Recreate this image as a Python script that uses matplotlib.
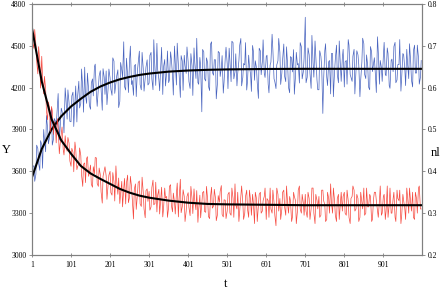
import matplotlib
matplotlib.use("Agg")
import matplotlib.pyplot as plt
import numpy as np

# readings at t = 1, 6, 11, ..., 996 (A) and t = 3, 8, 13, ..., 998 (B)
T_A = np.arange(1, 1000, 5)
T_B = np.arange(3, 1000, 5)

Y_A = [
    3390, 3640, 3578, 3763, 3607, 3790, 3900, 3740, 3910, 3845,
    4050, 3830, 3960, 4064, 3824, 4053, 3981, 4198, 3974, 4090,
    3955, 4168, 4102, 3954, 4246, 4087, 4197, 4347, 4087, 4187,
    4045, 4263, 4351, 4149, 4196, 4322, 4038, 4274, 4320, 4195,
    4270, 4145, 4390, 4234, 4328, 4102, 4326, 4529, 4183, 4286,
    4399, 4222, 4145, 4367, 4319, 4462, 4184, 4336, 4268, 4400,
    4232, 4453, 4185, 4326, 4518, 4259, 4370, 4151, 4402, 4313,
    4236, 4457, 4287, 4498, 4219, 4360, 4130, 4391, 4432, 4302,
    4384, 4194, 4355, 4485, 4266, 4236, 4417, 4027, 4457, 4248,
    4378, 4179, 4529, 4289, 4400, 4230, 4450, 4340, 4161, 4411,
    4373, 4483, 4243, 4523, 4313, 4213, 4393, 4553, 4273, 4363,
    4183, 4433, 4293, 4503, 4253, 4343, 4123, 4463, 4383, 4303,
    4423, 4223, 4363, 4583, 4263, 4193, 4393, 4453, 4303, 4513,
    4243, 4353, 4163, 4413, 4473, 4283, 4363, 4233, 4493, 4313,
    4705, 4275, 4435, 4195, 4375, 4535, 4255, 4185, 4425, 4015,
    4465, 4275, 4385, 4155, 4445, 4315, 4505, 4235, 4365, 4415,
    4205, 4395, 4545, 4295, 4245, 4475, 4325, 4435, 4135, 4385,
    4515, 4265, 4355, 4185, 4455, 4375, 4275, 4565, 4225, 4345,
    4425, 4295, 4485, 4215, 4395, 4315, 4525, 4255, 4365, 4175,
    4445, 4335, 4475, 4265, 4385, 4205, 4505, 4305, 4415, 4275,
]
Y_B = [
    3635, 3528, 3788, 3657, 3820, 3622, 3822, 4000, 3797, 3993,
    3788, 3979, 3920, 4158, 3905, 4031, 3876, 4120, 4184, 3958,
    4140, 3921, 4212, 4143, 4054, 4334, 4024, 4144, 4304, 4074,
    4233, 4141, 4369, 4066, 4284, 4190, 4336, 4152, 4078, 4334,
    4189, 4414, 4159, 4283, 4057, 4381, 4274, 4208, 4411, 4165,
    4498, 4251, 4354, 4136, 4379, 4221, 4453, 4175, 4347, 4219,
    4431, 4263, 4544, 4216, 4327, 4178, 4489, 4350, 4212, 4463,
    4255, 4406, 4147, 4378, 4519, 4289, 4430, 4181, 4362, 4492,
    4244, 4444, 4144, 4374, 4554, 4224, 4354, 4474, 4264, 4414,
    4210, 4510, 4310, 4400, 4120, 4460, 4280, 4430, 4240, 4490,
    4193, 4393, 4533, 4263, 4443, 4303, 4503, 4213, 4373, 4523,
    4243, 4353, 4173, 4463, 4393, 4233, 4483, 4293, 4543, 4273,
    4433, 4163, 4383, 4473, 4243, 4363, 4553, 4223, 4403, 4283,
    4493, 4203, 4423, 4313, 4153, 4453, 4373, 4523, 4263, 4413,
    4235, 4485, 4305, 4575, 4275, 4425, 4185, 4465, 4355, 4255,
    4515, 4215, 4395, 4445, 4135, 4405, 4295, 4535, 4245, 4475,
    4385, 4225, 4505, 4275, 4425, 4155, 4465, 4365, 4255, 4555,
    4295, 4435, 4205, 4495, 4315, 4415, 4165, 4455, 4395, 4245,
    4525, 4285, 4445, 4195, 4405, 4495, 4235, 4365, 4545, 4275,
    4435, 4215, 4375, 4515, 4255, 4465, 4305, 4505, 4225, 4395,
]

NL_A = [
    0.782, 0.694, 0.703, 0.633, 0.663, 0.675, 0.585, 0.596, 0.523, 0.551,
    0.555, 0.488, 0.507, 0.526, 0.442, 0.489, 0.452, 0.485, 0.448, 0.467,
    0.412, 0.446, 0.470, 0.404, 0.418, 0.438, 0.364, 0.420, 0.431, 0.388,
    0.415, 0.362, 0.394, 0.432, 0.364, 0.392, 0.324, 0.402, 0.389, 0.367,
    0.400, 0.343, 0.375, 0.413, 0.345, 0.323, 0.376, 0.359, 0.322, 0.391,
    0.339, 0.363, 0.286, 0.370, 0.343, 0.377, 0.316, 0.350, 0.289, 0.358,
    0.352, 0.315, 0.379, 0.323, 0.303, 0.357, 0.336, 0.291, 0.360, 0.340,
    0.314, 0.368, 0.303, 0.327, 0.347, 0.291, 0.381, 0.316, 0.340, 0.305,
    0.349, 0.294, 0.334, 0.358, 0.308, 0.278, 0.343, 0.323, 0.352, 0.302,
    0.332, 0.287, 0.362, 0.317, 0.336, 0.296, 0.326, 0.366, 0.291, 0.331,
    0.305, 0.350, 0.295, 0.335, 0.370, 0.310, 0.280, 0.340, 0.325, 0.300,
    0.355, 0.290, 0.330, 0.345, 0.275, 0.335, 0.320, 0.350, 0.305, 0.340,
    0.285, 0.330, 0.360, 0.300, 0.325, 0.270, 0.345, 0.335, 0.310, 0.355,
    0.295, 0.320, 0.340, 0.280, 0.350, 0.330, 0.305, 0.365, 0.300, 0.325,
    0.345, 0.290, 0.335, 0.310, 0.360, 0.275, 0.330, 0.340, 0.295, 0.355,
    0.320, 0.285, 0.335, 0.370, 0.300, 0.330, 0.280, 0.345, 0.325, 0.305,
    0.350, 0.295, 0.330, 0.275, 0.340, 0.355, 0.310, 0.335, 0.290, 0.325,
    0.360, 0.300, 0.315, 0.345, 0.280, 0.335, 0.350, 0.305, 0.330, 0.295,
    0.340, 0.285, 0.365, 0.320, 0.300, 0.335, 0.290, 0.355, 0.330, 0.275,
    0.345, 0.310, 0.360, 0.300, 0.325, 0.350, 0.285, 0.335, 0.360, 0.310,
]
NL_B = [
    0.706, 0.739, 0.663, 0.698, 0.599, 0.627, 0.627, 0.544, 0.566, 0.495,
    0.545, 0.519, 0.468, 0.507, 0.464, 0.506, 0.439, 0.462, 0.481, 0.425,
    0.455, 0.399, 0.453, 0.412, 0.456, 0.391, 0.417, 0.373, 0.435, 0.397,
    0.369, 0.411, 0.433, 0.371, 0.408, 0.351, 0.388, 0.411, 0.333, 0.391,
    0.349, 0.397, 0.329, 0.377, 0.384, 0.347, 0.315, 0.383, 0.372, 0.325,
    0.388, 0.332, 0.356, 0.309, 0.373, 0.322, 0.386, 0.310, 0.354, 0.328,
    0.307, 0.361, 0.320, 0.374, 0.343, 0.298, 0.362, 0.311, 0.336, 0.290,
    0.364, 0.319, 0.348, 0.298, 0.372, 0.337, 0.301, 0.356, 0.280, 0.340,
    0.314, 0.364, 0.299, 0.329, 0.354, 0.309, 0.289, 0.349, 0.304, 0.364,
    0.292, 0.337, 0.312, 0.357, 0.282, 0.342, 0.352, 0.297, 0.332, 0.287,
    0.345, 0.300, 0.360, 0.290, 0.320, 0.350, 0.305, 0.365, 0.285, 0.340,
    0.310, 0.355, 0.295, 0.325, 0.350, 0.280, 0.345, 0.300, 0.330, 0.360,
    0.335, 0.290, 0.310, 0.355, 0.295, 0.360, 0.305, 0.285, 0.350, 0.315,
    0.365, 0.300, 0.330, 0.290, 0.340, 0.275, 0.355, 0.310, 0.345, 0.295,
    0.305, 0.350, 0.285, 0.360, 0.300, 0.345, 0.310, 0.290, 0.355, 0.330,
    0.280, 0.350, 0.300, 0.325, 0.360, 0.295, 0.335, 0.285, 0.350, 0.340,
    0.300, 0.355, 0.290, 0.335, 0.365, 0.305, 0.345, 0.280, 0.350, 0.310,
    0.295, 0.360, 0.315, 0.340, 0.285, 0.350, 0.330, 0.290, 0.365, 0.300,
    0.345, 0.305, 0.290, 0.360, 0.300, 0.350, 0.280, 0.335, 0.355, 0.295,
    0.330, 0.285, 0.340, 0.360, 0.305, 0.290, 0.350, 0.300, 0.365, 0.310,
]

# fitted (smooth) curves
T_FIT = [1, 26, 51, 76, 101, 126, 151, 176, 201, 226, 251, 276, 301,
         351, 401, 451, 501, 601, 701, 801, 901, 1000]
Y_FIT = [3557, 3760, 3900, 3995, 4065, 4120, 4170, 4208, 4237, 4260, 4277,
         4291, 4301, 4315, 4323, 4328, 4331, 4334, 4335, 4335, 4335, 4335]
NL_FIT = [0.742, 0.615, 0.525, 0.474, 0.442, 0.413, 0.395, 0.382, 0.370,
          0.358, 0.349, 0.342, 0.337, 0.330, 0.325, 0.322, 0.321, 0.320,
          0.319, 0.319, 0.319, 0.319]

X_TICKS = [1, 101, 201, 301, 401, 501, 601, 701, 801, 901]
Y_TICKS = [3000, 3300, 3600, 3900, 4200, 4500, 4800]
NL_TICKS = [0.2, 0.3, 0.4, 0.5, 0.6, 0.7, 0.8]

FONT = "Liberation Serif"
AXCOL = "#808080"


def interleave(a, b):
    return np.column_stack([a, b]).ravel()


t_all = interleave(T_A, T_B)
y_all = interleave(Y_A, Y_B)
nl_all = interleave(NL_A, NL_B)

fig = plt.figure(figsize=(4.43, 2.94), dpi=100, facecolor="white")
ax = fig.add_axes([0.0722, 0.1327, 0.8804, 0.8537])
ax2 = ax.twinx()

ax.plot(t_all, y_all, color="#3553b8", lw=0.5, alpha=0.9)
ax.plot(T_FIT, Y_FIT, color="black", lw=1.5)
ax2.plot(t_all, nl_all, color="#f5352a", lw=0.5, alpha=0.9)
ax2.plot(T_FIT, NL_FIT, color="black", lw=1.5)

ax.set_xlim(1, 1000)
ax.set_ylim(3000, 4800)
ax2.set_ylim(0.2, 0.8)
ax.set_xticks(X_TICKS)
ax.set_yticks(Y_TICKS)
ax2.set_yticks(NL_TICKS)
ax.set_xticklabels([str(v) for v in X_TICKS], family=FONT, fontsize=5.5)
ax.set_yticklabels([str(v) for v in Y_TICKS], family=FONT, fontsize=5.5)
ax2.set_yticklabels([f"{v:.1f}" for v in NL_TICKS], family=FONT, fontsize=5.5)

for a in (ax, ax2):
    for s in a.spines.values():
        s.set_color(AXCOL)
        s.set_linewidth(0.8)
ax.tick_params(axis="x", direction="inout", length=3, width=0.6, color=AXCOL,
               pad=3, top=True)
ax.tick_params(axis="y", direction="out", length=2, width=0.6, color=AXCOL, pad=2)
ax2.tick_params(axis="y", direction="out", length=2, width=0.6, color=AXCOL, pad=2)

fig.text(0.004, 0.49, "Y", family=FONT, fontsize=9, ha="left", va="center")
fig.text(0.995, 0.48, "nl", family=FONT, fontsize=9, ha="right", va="center")
fig.text(0.51, 0.035, "t", family=FONT, fontsize=9, ha="center", va="center")

fig.savefig("out.png", dpi=100, facecolor="white")
